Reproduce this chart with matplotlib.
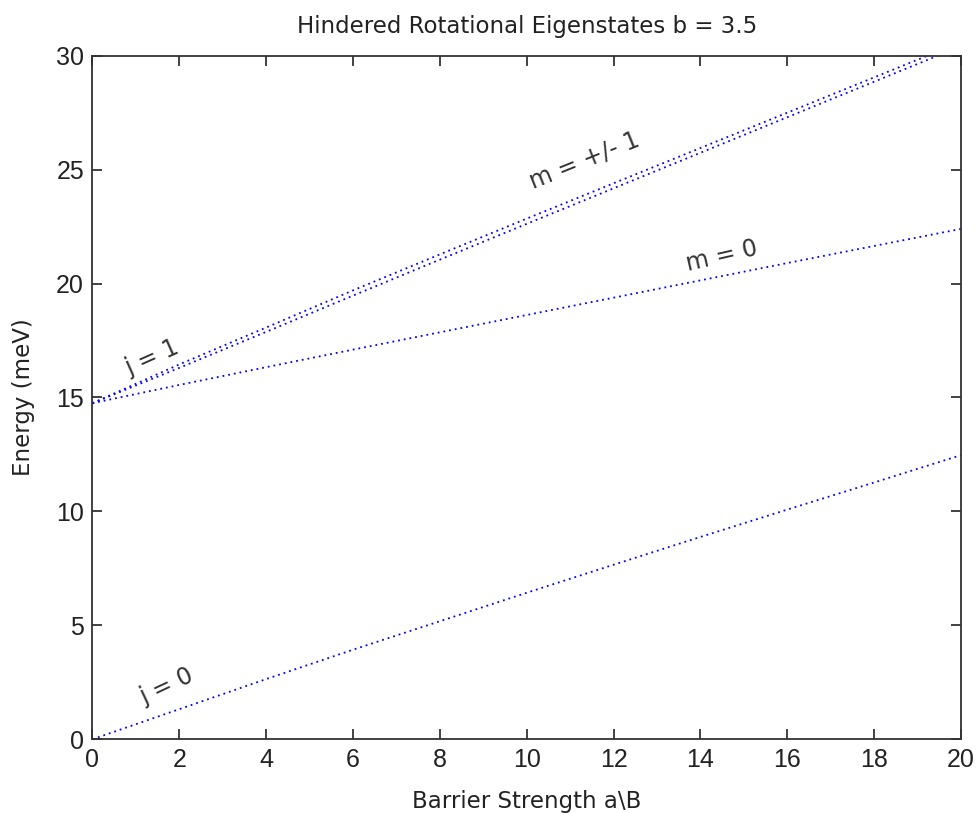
import matplotlib
matplotlib.use("Agg")
import matplotlib.pyplot as plt
import numpy as np

plt.rcParams['font.family'] = ['DejaVu Sans']

# Data
barrier = [0, 2, 4, 6, 8, 10, 12, 14, 16, 18, 20]
e_j0 = [0.0, 1.32, 2.64, 3.93, 5.18, 6.43, 7.66, 8.88, 10.08, 11.27, 12.47]
e_m0 = [14.75, 15.55, 16.33, 17.10, 17.86, 18.62, 19.38, 20.14, 20.90, 21.65, 22.40]
e_m1a = [14.75, 16.45, 18.07, 19.70, 21.28, 22.85, 24.40, 25.95, 27.50, 29.05, 30.60]
e_m1b = [14.75, 16.30, 17.88, 19.47, 21.05, 22.62, 24.18, 25.74, 27.30, 28.86, 30.42]

title = "Hindered Rotational Eigenstates b = 3.5"
xlabel = "Barrier Strength a\\B"
ylabel = "Energy (meV)"
xticks = [0, 2, 4, 6, 8, 10, 12, 14, 16, 18, 20]
yticks = [0, 5, 10, 15, 20, 25, 30]

fig = plt.figure(figsize=(9.78, 8.13), dpi=100)
ax = fig.add_axes([0.0945, 0.0907, 0.8882, 0.8408])

ls = (0, (1, 2.2))
for ys in (e_j0, e_m0, e_m1a, e_m1b):
    ax.plot(barrier, ys, color='blue', linestyle=ls, linewidth=1.3)

ax.set_xlim(0, 20)
ax.set_ylim(0, 30)
ax.set_xticks(xticks)
ax.set_yticks(yticks)
ax.tick_params(direction='in', top=True, right=True, length=7, width=1.2,
               labelsize=18, colors='#222222', pad=6)
for lab in ax.get_xticklabels() + ax.get_yticklabels():
    lab.set_fontfamily('Liberation Sans')
for s in ax.spines.values():
    s.set_linewidth(1.3)
    s.set_color('#333333')

ax.set_title(title, fontsize=16.5, pad=16, color='#222222')
ax.set_xlabel(xlabel, fontsize=16.5, color='#222222', labelpad=13)
ax.set_ylabel(ylabel, fontsize=16.5, color='#222222', labelpad=15)

tk = dict(fontsize=17, color='#333333', ha='center', va='center')
ax.text(1.38, 16.75, "j = 1", rotation=24, **tk)
ax.text(11.32, 25.4, "m = +/- 1", rotation=22, **tk)
ax.text(14.5, 21.23, "m = 0", rotation=13, **tk)
ax.text(1.72, 2.34, "j = 0", rotation=25, **tk)

fig.savefig("out.png", dpi=100)
